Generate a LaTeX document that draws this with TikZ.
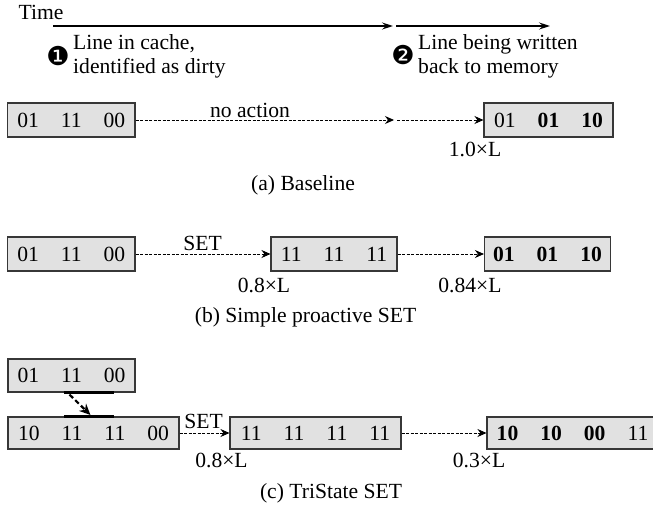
\documentclass[tikz,border=0pt]{standalone}
\usepackage{fontspec}
\setmainfont{Liberation Serif}
\newfontfamily\dingfont{DejaVu Sans}
\usetikzlibrary{arrows.meta}
\definecolor{boxgray}{RGB}{225,225,225}
\definecolor{boxline}{RGB}{55,55,55}
\newcommand{\cg}{\hspace{22pt}}
\tikzset{
  txt/.style={font=\fontsize{21.6}{24}\selectfont, inner sep=0pt},
  ding/.style={font=\dingfont\fontsize{26}{26}\selectfont, inner sep=0pt},
  cell/.style={draw=boxline, fill=boxgray, line width=1.1pt, minimum height=34pt,
               inner sep=0pt, font=\fontsize{21.6}{24}\selectfont},
  w3/.style={cell, minimum width=127.5pt},
  w4/.style={cell, minimum width=171pt},
  flow/.style={dash pattern=on 3pt off 1.5pt, line width=0.9pt,
               -{Stealth[length=9pt,width=8pt]}},
  timeline/.style={line width=1.8pt, -{Stealth[length=11pt,width=7pt,inset=4pt]}},
  hilite/.style={line width=2.6pt},
  copyarrow/.style={line width=2.2pt, dash pattern=on 5pt off 3pt,
                    -{Stealth[length=11pt,width=10pt]}},
}
\begin{document}
\begin{tikzpicture}[x=1pt,y=-1pt]
\useasboundingbox (0,0) rectangle (653,508);
% time line
\node[txt] (time) at (41,12.5) {Time};
\coordinate (t0) at (53,26);
\coordinate (t1) at (393,26);
\coordinate (t2) at (396,26);
\coordinate (t3) at (550,26);
\draw[timeline] (t0) -- (t1);
\draw[timeline] (t2) -- (t3);
\node[ding] (n1) at (58,56) {❶};
\node[txt, anchor=west, align=left] (ev1) at (73,56.5) {Line in cache,\\identified as dirty};
\node[ding] (n2) at (403,55) {❷};
\node[txt, anchor=west, align=left] (ev2) at (418,56) {Line being written\\back to memory};

% (a) baseline
\node[w3] (a1) at (71.25,120) {01\cg11\cg00};
\node[w3, minimum width=129pt] (a2) at (548.5,120) {01\cg\textbf{01}\cg\textbf{10}};
\coordinate (am1) at (394,120);
\coordinate (am2) at (397,120);
\draw[flow] (a1.east) -- (am1);
\draw[flow] (am2) -- (a2.west);
\node[txt] (noact) at (250,110) {no action};
\node[txt] (la) at (475,149.5) {1.0×L};
\node[txt] (capa) at (303,185) {(a) Baseline};

% (b) simple proactive SET
\node[w3] (b1) at (71.25,254) {01\cg11\cg00};
\node[w3, minimum width=126pt] (b2) at (334,254) {11\cg11\cg11};
\node[w3, minimum width=126pt] (b3) at (547.5,254) {\textbf{01}\cg\textbf{01}\cg\textbf{10}};
\draw[flow] (b1.east) -- (b2.west);
\draw[flow] (b2.east) -- (b3.west);
\node[txt] (setb) at (202.5,243.5) {SET};
\node[txt] (lb1) at (264,285) {0.8×L};
\node[txt] (lb2) at (470,285) {0.84×L};
\node[txt] (capb) at (305.5,317) {(b) Simple proactive SET};

% (c) TriState SET
\node[w3, minimum width=127pt, minimum height=33pt] (c0) at (71.5,375.5) {01\cg11\cg00};
\node[w4, minimum height=32pt] (c1) at (93.5,433) {10\cg11\cg11\cg00};
\node[w4, minimum height=32pt] (c2) at (315.5,433) {11\cg11\cg11\cg11};
\node[w4, minimum height=32pt] (c3) at (572.5,433) {\textbf{10}\cg\textbf{10}\cg\textbf{00}\cg11};
\draw[hilite] ([xshift=57pt]c0.south west) -- ([xshift=107pt]c0.south west);
\draw[hilite] ([xshift=57pt]c1.north west) -- ([xshift=107pt]c1.north west);
\coordinate (src) at ([xshift=62pt,yshift=-2pt]c0.south west);
\coordinate (dst) at ([xshift=83pt,yshift=1.5pt]c1.north west);
\draw[copyarrow] (src) -- (dst);
\draw[flow] (c1.east) -- (c2.west);
\draw[flow] (c2.east) -- (c3.west);
\node[txt] (setc) at (203.5,421) {SET};
\node[txt] (lc1) at (221.5,460) {0.8×L};
\node[txt] (lc2) at (479,460) {0.3×L};
\node[txt] (capc) at (331,493.5) {(c) TriState SET};
\end{tikzpicture}
\end{document}
